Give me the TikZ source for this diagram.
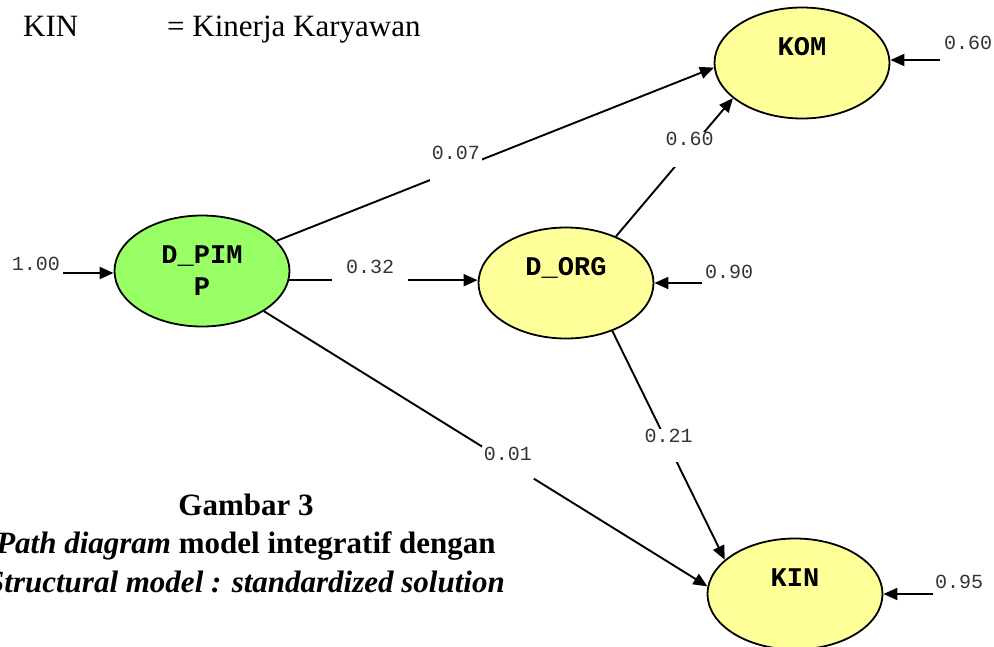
\documentclass[tikz,border=0pt]{standalone}
\usepackage{fontspec}
\setmainfont{Liberation Serif}
\setmonofont{Liberation Mono}
\usetikzlibrary{shapes.geometric,arrows.meta,positioning}
\definecolor{pimpgreen}{RGB}{153,255,102}
\definecolor{latyellow}{RGB}{255,255,153}
\tikzset{latent/.style={ellipse,draw,line width=1.8pt,fill=latyellow,minimum width=175pt,minimum height=111pt,inner sep=0pt,font=\ttfamily\bfseries\fontsize{27}{32}\selectfont},
         raised/.style={text height=15pt,text depth=30pt},
         coef/.style={fill=white,text=black!80,inner xsep=2pt,inner ysep=1pt,text height=13pt,font=\ttfamily\fontsize{20}{24}\selectfont},
         errlabel/.style={inner sep=0pt,text=black!80,font=\ttfamily\fontsize{20}{24}\selectfont},
         path edge/.style={draw,line width=1.9pt},
         head text/.style={anchor=base west,inner sep=0pt,font=\fontsize{31}{36}\selectfont},
         caption text/.style={anchor=base,inner sep=0pt,font=\bfseries\fontsize{31}{38}\selectfont},
}

\begin{document}
\begin{tikzpicture}[x=1pt,y=-1pt,>={Triangle[length=14pt,width=12pt]}]
\useasboundingbox (0,0) rectangle (994,646);
% \draw[help lines,step=50] (0,0) grid (994,646);
\node[head text] (kinabbr) at (23,36) {KIN};
\node[head text] (kindef) at (167,36) {= Kinerja Karyawan};

\node[latent,fill=pimpgreen,align=center] (pimp) at (202,271) {D\_PIM\\P};
\node[latent,raised] (org) at (566,283) {D\_ORG};
\node[latent,raised] (kom) at (802,63) {KOM};
\node[latent,raised] (kin) at (795,594) {KIN};

\draw[path edge,->] (pimp.22) -- node[coef,pos=.41,text depth=34pt] (c07) {0.07} (kom.183);
\draw[path edge,->] (pimp.-6) -- node[coef,pos=.43,text depth=26pt,inner xsep=14pt] (c32) {0.32} (pimp.-6 -| org.west);
\draw[path edge,->] (pimp.-33) -- node[coef,pos=.55,text depth=18pt] (c01) {0.01} (kin.175);
\draw[path edge,->] (org.43) -- node[coef,pos=.63,text depth=20pt] (c60) {0.60} (kom.207);
\draw[path edge,->] (org.-46) -- node[coef,pos=.5,text depth=18pt] (c21) {0.21} (kin.154);

\node[errlabel] (t100) at (36,264) {1.00};
\coordinate (e100) at (63,273);
\draw[path edge,->] (e100) -- (e100 -| pimp.west);
\node[errlabel] (t090) at (729,272) {0.90};
\coordinate (e090) at (702,283);
\draw[path edge,->] (e090) -- (org.east);
\node[errlabel] (t060) at (968,43) {0.60};
\coordinate (e060) at (940,60);
\draw[path edge,->] (e060) -- (e060 -| kom.east);
\node[errlabel] (t095) at (959,582) {0.95};
\coordinate (e095) at (933,594);
\draw[path edge,->] (e095) -- (kin.east);

\node[caption text] (cap1) at (246,515) {Gambar 3};
\node[caption text] (cap2) at (246,553) {\textit{Path diagram} model integratif dengan};
\node[caption text] (cap3) at (246,592) {\textit{Structural model : standardized solution}};
\end{tikzpicture}
\end{document}
